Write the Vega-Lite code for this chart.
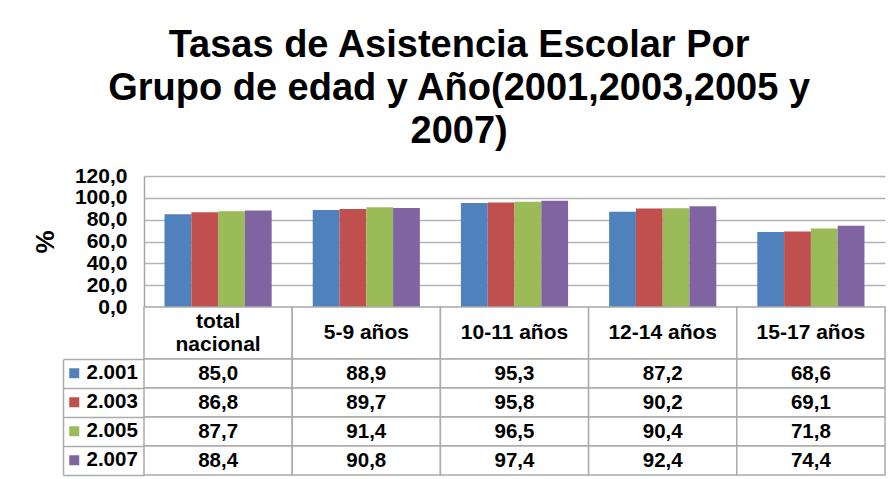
{
  "$schema": "https://vega.github.io/schema/vega-lite/v6.json",
  "padding": {"left": 32, "top": 27, "right": 5, "bottom": 5},
  "bounds": "flush",
  "spacing": 0,
  "config": {
    "font": "Liberation Sans",
    "locale": {"number": {"decimal": ",", "thousands": ".", "grouping": [3], "currency": ["", ""]}},
    "view": {"stroke": null},
    "concat": {"spacing": 0}
  },
  "title": {
    "text": ["Tasas de Asistencia Escolar Por", "Grupo de edad y Año(2001,2003,2005 y", "2007)"],
    "fontSize": 38,
    "fontWeight": "bold",
    "lineHeight": 43,
    "color": "#000000",
    "anchor": "middle",
    "offset": 14
  },
  "datasets": {
    "tasas": [
      {"grupo": "total nacional", "anio": "2.001", "valor": 85.0},
      {"grupo": "total nacional", "anio": "2.003", "valor": 86.8},
      {"grupo": "total nacional", "anio": "2.005", "valor": 87.7},
      {"grupo": "total nacional", "anio": "2.007", "valor": 88.4},
      {"grupo": "5-9 años", "anio": "2.001", "valor": 88.9},
      {"grupo": "5-9 años", "anio": "2.003", "valor": 89.7},
      {"grupo": "5-9 años", "anio": "2.005", "valor": 91.4},
      {"grupo": "5-9 años", "anio": "2.007", "valor": 90.8},
      {"grupo": "10-11 años", "anio": "2.001", "valor": 95.3},
      {"grupo": "10-11 años", "anio": "2.003", "valor": 95.8},
      {"grupo": "10-11 años", "anio": "2.005", "valor": 96.5},
      {"grupo": "10-11 años", "anio": "2.007", "valor": 97.4},
      {"grupo": "12-14 años", "anio": "2.001", "valor": 87.2},
      {"grupo": "12-14 años", "anio": "2.003", "valor": 90.2},
      {"grupo": "12-14 años", "anio": "2.005", "valor": 90.4},
      {"grupo": "12-14 años", "anio": "2.007", "valor": 92.4},
      {"grupo": "15-17 años", "anio": "2.001", "valor": 68.6},
      {"grupo": "15-17 años", "anio": "2.003", "valor": 69.1},
      {"grupo": "15-17 años", "anio": "2.005", "valor": 71.8},
      {"grupo": "15-17 años", "anio": "2.007", "valor": 74.4}
    ],
    "grupos": [
      {"grupo": "total nacional", "etiqueta": "total\nnacional", "lineas": 2},
      {"grupo": "5-9 años", "etiqueta": "5-9 años", "lineas": 1},
      {"grupo": "10-11 años", "etiqueta": "10-11 años", "lineas": 1},
      {"grupo": "12-14 años", "etiqueta": "12-14 años", "lineas": 1},
      {"grupo": "15-17 años", "etiqueta": "15-17 años", "lineas": 1}
    ]
  },
  "resolve": {"scale": {"x": "independent", "y": "independent", "color": "independent"}},
  "vconcat": [
    {
      "width": 741,
      "height": 131,
      "data": {"name": "tasas"},
      "mark": {"type": "bar"},
      "encoding": {
        "x": {
          "field": "grupo", "type": "nominal",
          "sort": ["total nacional", "5-9 años", "10-11 años", "12-14 años", "15-17 años"],
          "scale": {"paddingInner": 0.277, "paddingOuter": 0.1385},
          "axis": null
        },
        "xOffset": {
          "field": "anio", "type": "nominal",
          "sort": ["2.001", "2.003", "2.005", "2.007"],
          "scale": {"paddingInner": 0, "paddingOuter": 0}
        },
        "y": {
          "field": "valor", "type": "quantitative",
          "scale": {"domain": [0, 120], "nice": false},
          "axis": {
            "values": [0, 20, 40, 60, 80, 100, 120],
            "format": ".1f",
            "title": "%",
            "titleFontSize": 26,
            "titleFontWeight": "bold",
            "titleColor": "#000000",
            "titlePadding": 16,
            "labelFontSize": 21,
            "labelFontWeight": "bold",
            "labelColor": "#000000",
            "labelPadding": 17,
            "ticks": false,
            "grid": true,
            "gridColor": "#B3B3B3",
            "gridWidth": 1.5,
            "domainColor": "#A6A6A6",
            "domainWidth": 1.5
          }
        },
        "color": {
          "field": "anio", "type": "nominal",
          "sort": ["2.001", "2.003", "2.005", "2.007"],
          "scale": {"range": ["#4F81BD", "#C0504D", "#9BBB59", "#8064A2"]},
          "legend": {
            "orient": "none",
            "legendX": -80,
            "legendY": 187,
            "title": null,
            "padding": 0,
            "symbolType": "square",
            "symbolSize": 100,
            "symbolStrokeWidth": 0,
            "labelFontSize": 20.5,
            "labelFontWeight": "bold",
            "labelColor": "#000000",
            "labelOffset": 2,
            "rowPadding": 8
          }
        }
      }
    },
    {
      "width": 741,
      "height": 52,
      "data": {"name": "grupos"},
      "encoding": {
        "x": {
          "field": "grupo", "type": "nominal",
          "sort": ["total nacional", "5-9 años", "10-11 años", "12-14 años", "15-17 años"],
          "scale": {"paddingInner": 0, "paddingOuter": 0},
          "axis": null
        }
      },
      "layer": [
        {"mark": {"type": "rect", "fill": "#FFFFFF", "stroke": "#ABABAB", "strokeWidth": 1.5}},
        {
          "transform": [{"filter": "datum.lineas == 1"}],
          "mark": {"type": "text", "fontSize": 21, "fontWeight": "bold", "color": "#000000", "baseline": "middle"},
          "encoding": {"text": {"field": "etiqueta"}}
        },
        {
          "transform": [{"filter": "datum.lineas == 2"}],
          "mark": {"type": "text", "fontSize": 21, "fontWeight": "bold", "color": "#000000", "lineBreak": "\n", "lineHeight": 23, "baseline": "middle", "dy": -11.5},
          "encoding": {"text": {"field": "etiqueta"}}
        }
      ]
    },
    {
      "width": 741,
      "height": 116,
      "data": {"name": "tasas"},
      "encoding": {
        "x": {
          "field": "grupo", "type": "nominal",
          "sort": ["total nacional", "5-9 años", "10-11 años", "12-14 años", "15-17 años"],
          "scale": {"paddingInner": 0, "paddingOuter": 0},
          "axis": null
        },
        "y": {
          "field": "anio", "type": "nominal",
          "sort": ["2.001", "2.003", "2.005", "2.007"],
          "scale": {"paddingInner": 0, "paddingOuter": 0},
          "axis": {
            "orient": "left",
            "offset": 81,
            "tickSize": -81,
            "tickBand": "extent",
            "tickColor": "#ABABAB",
            "tickWidth": 1.5,
            "domainColor": "#ABABAB",
            "domainWidth": 1.5,
            "labels": false,
            "title": null
          }
        }
      },
      "layer": [
        {"mark": {"type": "rect", "fill": "#FFFFFF", "stroke": "#ABABAB", "strokeWidth": 1.5}},
        {
          "mark": {"type": "text", "fontSize": 20.5, "fontWeight": "bold", "color": "#000000", "baseline": "middle"},
          "encoding": {"text": {"field": "valor", "type": "quantitative", "format": ".1f"}}
        }
      ]
    }
  ]
}
